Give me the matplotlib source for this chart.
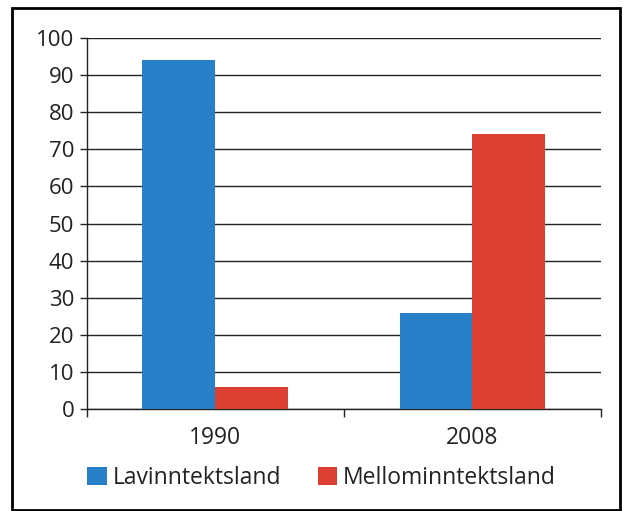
import matplotlib
matplotlib.use("Agg")
import matplotlib.pyplot as plt
import numpy as np
from matplotlib.patches import Rectangle

years = ["1990", "2008"]
lavinntekt = [94, 26]
mellominntekt = [6, 74]
series_names = ["Lavinntektsland", "Mellominntektsland"]
colors = ["#2880c8", "#db4032"]

plt.rcParams["font.family"] = ["Open Sans", "DejaVu Sans"]

fig = plt.figure(figsize=(6.23, 5.11), dpi=100)
ax = fig.add_axes([0.1396, 0.1996, 0.8251, 0.726])

x = np.arange(len(years))
w = 0.284
b1 = ax.bar(x - w / 2, lavinntekt, w, color=colors[0], label=series_names[0], zorder=3)
b2 = ax.bar(x + w / 2, mellominntekt, w, color=colors[1], label=series_names[1], zorder=3)

ax.set_xlim(-0.5, 1.5)
ax.set_ylim(0, 100)
ax.set_yticks(range(0, 101, 10))
ax.tick_params(axis="y", labelsize=16, length=5, width=1, color="#222222", labelcolor="#222222", pad=4)
ax.grid(axis="y", color="#222222", linewidth=1, zorder=0)

ax.set_xticks([-0.5, 0.5, 1.5])
ax.set_xticklabels([])
ax.tick_params(axis="x", length=6, width=1, color="#222222")
for xi, lab in zip(x, years):
    ax.text(xi, -4.5, lab, ha="center", va="top", fontsize=16.5, color="#222222",
            transform=ax.transData)

for s in ["top", "right"]:
    ax.spines[s].set_visible(False)
for s in ["left", "bottom"]:
    ax.spines[s].set_color("#222222")
    ax.spines[s].set_linewidth(1)

fig.legend(handles=[b1, b2], loc="center", bbox_to_anchor=(0.516, 1 - 478 / 511),
           ncol=2, frameon=False, fontsize=16.5, handlelength=0.85, handleheight=0.85,
           handletextpad=0.25, columnspacing=1.6, labelcolor="#222222")

fig.patches.append(Rectangle((12 / 623, 1 / 511), 608 / 623, 502 / 511,
                             transform=fig.transFigure, fill=False,
                             edgecolor="black", linewidth=2))

fig.savefig("out.png", dpi=100)
